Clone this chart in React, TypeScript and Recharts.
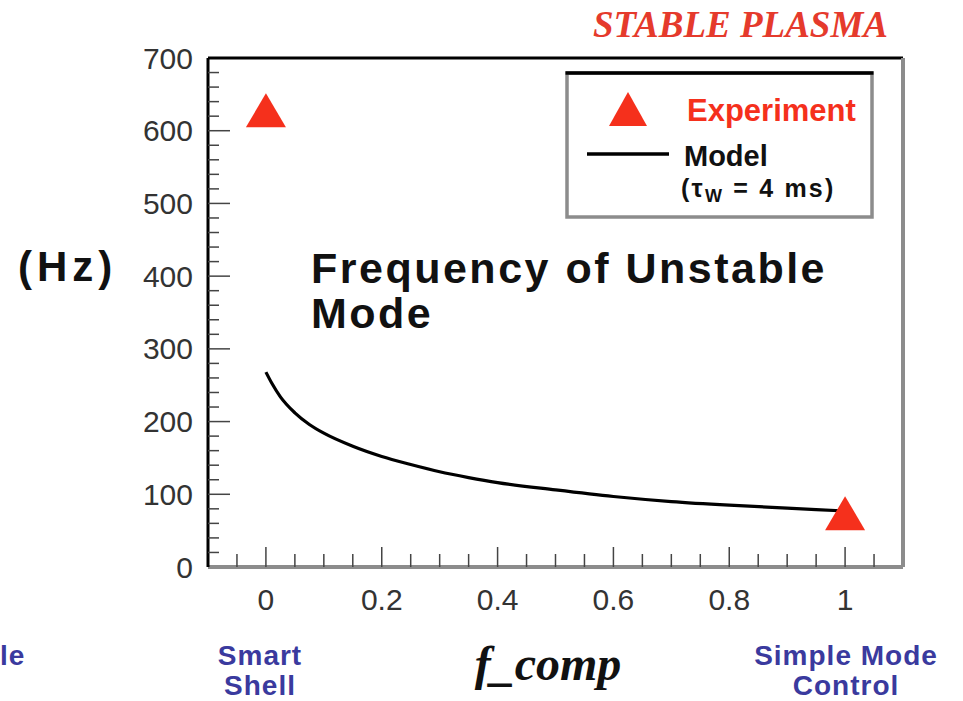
import React from "react";
import {
  ComposedChart,
  Line,
  Scatter,
  XAxis,
  YAxis,
  ReferenceLine,
  Legend,
} from "recharts";

// model curve: f_comp vs frequency (Hz), tau_w = 4 ms
const MODEL_X = [0, 0.01, 0.025, 0.05, 0.075, 0.1, 0.15, 0.2, 0.25, 0.3, 0.35, 0.4, 0.5, 0.6, 0.7, 0.8, 0.9, 1.0];
const MODEL_HZ = [268, 253, 234, 212, 196, 184, 166, 152, 141, 131, 123, 116, 106, 97, 90, 85, 81, 77];

// measured points
const EXP_X = [0, 1];
const EXP_HZ = [628, 74];

const Y_LABELS = [0, 100, 200, 300, 400, 500, 600, 700];
const X_LABELS = [0, 0.2, 0.4, 0.6, 0.8, 1];
const X_TICKS = [-0.05, 0, 0.05, 0.1, 0.15, 0.2, 0.25, 0.3, 0.35, 0.4, 0.45, 0.5, 0.55, 0.6, 0.65, 0.7, 0.75, 0.8, 0.85, 0.9, 0.95, 1, 1.05];
const Y_TICKS = Array.from({ length: 36 }, (_, i) => i * 20);

const RED = "#f5301c";
const BLUE = "#3a3a9e";
const GRAY = "#8c8c8c";
const SANS = "'Liberation Sans', Arial, sans-serif";
const SERIF = "'Liberation Serif', 'Times New Roman', serif";

const modelData = MODEL_X.map((x, i) => ({ x, model: MODEL_HZ[i] }));
const expData = EXP_X.map((x, i) => ({ x, exp: EXP_HZ[i] }));

const TICK_FONT = { fontFamily: SANS, fontSize: 30, fill: "#333" };

function YTick(props: any) {
  const { x, y, payload } = props;
  const v = payload.value;
  const major = Y_LABELS.includes(v);
  const ax = x + 15; // axis line position
  return (
    <g>
      {v > 0 && v < 700 && (
        <line x1={ax} x2={ax + (major ? 22 : 11)} y1={y} y2={y} stroke="#444" strokeWidth={1.5} />
      )}
      {major && (
        <text x={x} y={y} textAnchor="end" dominantBaseline="central" {...TICK_FONT}>
          {v}
        </text>
      )}
    </g>
  );
}

function XTick(props: any) {
  const { x, y, payload } = props;
  const v = payload.value;
  const major = X_LABELS.includes(v);
  const ay = y - 32;
  return (
    <g>
      <line x1={x} x2={x} y1={ay} y2={ay - (major ? 20 : 13)} stroke="#444" strokeWidth={1.5} />
      {major && (
        <text x={x} y={y} textAnchor="middle" dominantBaseline="central" {...TICK_FONT}>
          {String(v)}
        </text>
      )}
    </g>
  );
}

function Triangle(props: any) {
  const { cx, cy, w = 40, h = 34 } = props;
  if (cx == null || cy == null) return null;
  return (
    <polygon
      points={`${cx},${cy - h / 2} ${cx + w / 2},${cy + h / 2} ${cx - w / 2},${cy + h / 2}`}
      fill={RED}
    />
  );
}

function LegendBox() {
  return (
    <svg width={310} height={150} style={{ display: "block" }}>
      <rect x={2} y={3} width={305} height={144} fill="#fff" stroke={GRAY} strokeWidth={3.5} />
      <line x1={0.5} x2={308.5} y1={3} y2={3} stroke="#000" strokeWidth={3.6} />
      <Triangle cx={63} cy={39} w={38} h={34} />
      <text x={122} y={51} fontFamily={SANS} fontWeight="bold" fontSize={31} fill={RED}>
        Experiment
      </text>
      <line x1={22} x2={104} y1={84} y2={84} stroke="#000" strokeWidth={3.5} />
      <text x={119} y={96} fontFamily={SANS} fontWeight="bold" fontSize={29} fill="#111">
        Model
      </text>
      <text x={116} y={127} fontFamily={SANS} fontWeight="bold" fontSize={25} letterSpacing={2.2} fill="#111">
        <tspan>(τ</tspan>
        <tspan fontSize={18} dy={5}>W</tspan>
        <tspan dy={-5}> = 4 ms)</tspan>
      </text>
    </svg>
  );
}

export default function App() {
  return (
    <div style={{ position: "relative", width: 963, height: 701, background: "#fff", overflow: "hidden" }}>
      <style>{`body{margin:0}`}</style>
      <ComposedChart
        width={963}
        height={701}
        margin={{ top: 58, right: 60, bottom: 94, left: 148 }}
      >
        <XAxis
          dataKey="x"
          type="number"
          domain={[-0.1, 1.1]}
          ticks={X_TICKS}
          interval={0}
          height={40}
          tickSize={10}
          tickMargin={22}
          tickLine={false}
          tick={<XTick />}
          axisLine={{ stroke: GRAY, strokeWidth: 4 }}
          allowDataOverflow
        />
        <YAxis
          type="number"
          domain={[0, 700]}
          ticks={Y_TICKS}
          interval={0}
          width={60}
          tickSize={10}
          tickMargin={5}
          tickLine={false}
          tick={<YTick />}
          axisLine={{ stroke: "#000", strokeWidth: 3 }}
          allowDataOverflow
        />
        <ReferenceLine y={700} stroke="#000" strokeWidth={3} />
        <ReferenceLine x={1.1} stroke={GRAY} strokeWidth={4} />
        <Line
          data={modelData}
          dataKey="model"
          type="monotone"
          stroke="#000"
          strokeWidth={3.2}
          dot={false}
          isAnimationActive={false}
        />
        <Scatter
          data={expData}
          dataKey="exp"
          shape={<Triangle />}
          isAnimationActive={false}
        />
        <Legend
          layout="vertical"
          align="center"
          verticalAlign="middle"
          content={() => <LegendBox />}
          wrapperStyle={{ left: 565, top: 70, width: 310, height: 150 }}
        />
      </ComposedChart>
      <svg
        width={963}
        height={701}
        style={{ position: "absolute", left: 0, top: 0, pointerEvents: "none" }}
      >
        <text x={888} y={37} textAnchor="end" fontFamily={SERIF} fontStyle="italic" fontWeight="bold" fontSize={37} fill="#e53a2c">
          STABLE PLASMA
        </text>
        <text x={18} y={281} fontFamily={SANS} fontWeight="bold" fontSize={42} letterSpacing={5} fill="#111">
          (Hz)
        </text>
        <text fontFamily={SANS} fontWeight="bold" fontSize={43} letterSpacing={2.5} fill="#111">
          <tspan x={311} y={283}>Frequency of Unstable</tspan>
          <tspan x={311} y={328}>Mode</tspan>
        </text>
        <text x={548} y={680} textAnchor="middle" fontFamily={SERIF} fontStyle="italic" fontWeight="bold" fontSize={48} fill="#111">
          f_comp
        </text>
        <text textAnchor="middle" fontFamily={SANS} fontWeight="bold" fontSize={28} letterSpacing={1} fill={BLUE}>
          <tspan x={260} y={665}>Smart</tspan>
          <tspan x={260} y={695}>Shell</tspan>
        </text>
        <text textAnchor="middle" fontFamily={SANS} fontWeight="bold" fontSize={28} letterSpacing={1} fill={BLUE}>
          <tspan x={846} y={665}>Simple Mode</tspan>
          <tspan x={846} y={695}>Control</tspan>
        </text>
        <text x={0} y={665} fontFamily={SANS} fontWeight="bold" fontSize={28} letterSpacing={1} fill={BLUE}>
          le
        </text>
      </svg>
    </div>
  );
}
